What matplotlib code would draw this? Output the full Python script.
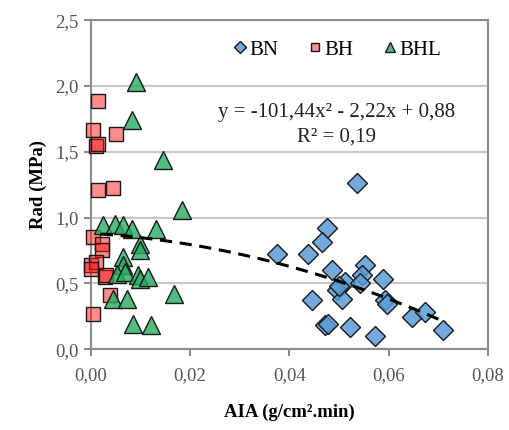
import numpy as np
import matplotlib
matplotlib.use("Agg")
import matplotlib.pyplot as plt
from matplotlib.ticker import FuncFormatter

plt.rcParams["font.family"] = ["Liberation Serif", "DejaVu Serif"]

# ---- data ----
bn_x = [0.0537, 0.0476, 0.0465, 0.0438, 0.0374, 0.0485, 0.0552, 0.0546, 0.0589,
        0.0512, 0.0495, 0.0505, 0.0542, 0.0445, 0.0593, 0.0596, 0.0646, 0.0673,
        0.0710, 0.0472, 0.0478, 0.0521, 0.0573, 0.0500]
bn_y = [1.264, 0.922, 0.815, 0.727, 0.727, 0.600, 0.638, 0.562, 0.530,
        0.511, 0.448, 0.385, 0.500, 0.372, 0.372, 0.347, 0.245, 0.283,
        0.144, 0.182, 0.195, 0.165, 0.099, 0.480]

bh_x = [0.0015, 0.0005, 0.0050, 0.0011, 0.0015, 0.0015, 0.0045, 0.0005, 0.0022,
        0.0022, 0.0000, 0.0011, 0.0028, 0.0038, 0.0005, 0.0000, 0.0030]
bh_y = [1.887, 1.664, 1.639, 1.543, 1.560, 1.213, 1.226, 0.853, 0.800,
        0.752, 0.638, 0.663, 0.549, 0.410, 0.271, 0.610, 0.560]

bhl_x = [0.0092, 0.0082, 0.0146, 0.0183, 0.0025, 0.0048, 0.0065, 0.0082, 0.0132,
         0.0099, 0.0099, 0.0065, 0.0065, 0.0052, 0.0069, 0.0095, 0.0099, 0.0116,
         0.0045, 0.0072, 0.0168, 0.0085, 0.0122]
bhl_y = [2.031, 1.740, 1.436, 1.056, 0.942, 0.955, 0.942, 0.917, 0.917,
         0.800, 0.752, 0.700, 0.638, 0.575, 0.587, 0.562, 0.537, 0.549,
         0.385, 0.385, 0.423, 0.195, 0.182]

# trendline shown on the chart: y = -101,44x² - 2,22x + 0,88
trend_coef = [-101.44, -2.22, 0.88]
trend_range = [0.002, 0.0715]

fig = plt.figure(figsize=(5.1, 4.3), dpi=100)
ax = fig.add_axes([0.178, 0.188, 0.779, 0.765])

grey = "#8c8c8c"
edge = "#1a1a1a"
ax.grid(axis="y", color="#c8c8c8", lw=1.6, zorder=0)
ax.set_axisbelow(True)

ax.plot(bn_x, bn_y, ls="none", marker="D", ms=10.5, mfc=(0.357, 0.608, 0.835, 0.85),
        mec=edge, mew=1.0, label="BN", zorder=3, clip_on=False)
ax.plot(bh_x, bh_y, ls="none", marker="s", ms=10.5, mfc=(1.0, 0.1, 0.1, 0.5),
        mec=edge, mew=1.0, label="BH", zorder=3, clip_on=False)
ax.plot(bhl_x, bhl_y, ls="none", marker="^", ms=13, mfc=(0.15, 0.68, 0.38, 0.8),
        mec=edge, mew=1.0, label="BHL", zorder=3, clip_on=False)

xt = np.linspace(trend_range[0], trend_range[1], 100)
ax.plot(xt, np.polyval(trend_coef, xt), ls=(0, (4, 2.5)), color="black", lw=2.2, zorder=4)

ax.text(0.0494, 1.80, "y = -101,44x² - 2,22x + 0,88", ha="center", va="center",
        fontsize=15, color="#222222")
ax.text(0.0494, 1.61, "R² = 0,19", ha="center", va="center", fontsize=15, color="#222222")

ax.set_xlim(0, 0.08)
ax.set_ylim(0, 2.5)
ax.set_xticks([0, 0.02, 0.04, 0.06, 0.08])
ax.set_yticks([0, 0.5, 1.0, 1.5, 2.0, 2.5])
ax.xaxis.set_major_formatter(FuncFormatter(lambda v, p: f"{v:.2f}".replace(".", ",")))
ax.yaxis.set_major_formatter(FuncFormatter(lambda v, p: f"{v:.1f}".replace(".", ",")))
ax.tick_params(labelsize=13.5, labelcolor="#555555", color=grey, width=1.5, length=5)
ax.tick_params(axis="x", pad=8)
for s in ax.spines.values():
    s.set_color(grey)
    s.set_linewidth(1.5)

ax.set_xlabel("AIA (g/cm².min)", fontsize=13.5, fontweight="bold", labelpad=14)
ax.set_ylabel("Rad (MPa)", fontsize=13.5, fontweight="bold", labelpad=6)

ax.legend(loc="center", bbox_to_anchor=(0.617, 0.91), ncol=3, frameon=False,
          fontsize=15, markerscale=0.55, handletextpad=0.0, columnspacing=1.3,
          handlelength=0.9)

fig.savefig("out.png", dpi=100)
